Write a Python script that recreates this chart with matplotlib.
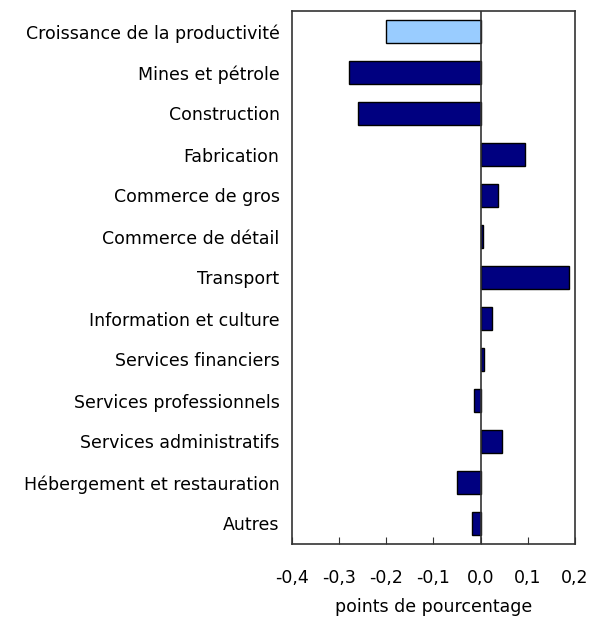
import matplotlib
matplotlib.use("Agg")
import matplotlib.pyplot as plt

categories = ["Croissance de la productivité", "Mines et pétrole", "Construction",
              "Fabrication", "Commerce de gros", "Commerce de détail", "Transport",
              "Information et culture", "Services financiers", "Services professionnels",
              "Services administratifs", "Hébergement et restauration", "Autres"]
values = [-0.20, -0.28, -0.26, 0.095, 0.037, 0.005, 0.188, 0.025, 0.008, -0.014,
          0.046, -0.050, -0.018]
colors = ["#99CCFF"] + ["#000080"] * 12
xticks = [-0.4, -0.3, -0.2, -0.1, 0.0, 0.1, 0.2]
xticklabels = ["-0,4", "-0,3", "-0,2", "-0,1", "0,0", "0,1", "0,2"]
xlabel = "points de pourcentage"

plt.rcParams['font.family'] = ['DejaVu Sans']

fig = plt.figure(figsize=(5.91, 6.22), dpi=100)
ax = fig.add_axes([292/591, 1-544/622, (575-292)/591, (544-11)/622])

y = list(range(len(categories)))
ax.barh(y, values, height=0.58, color=colors, edgecolor="black", linewidth=1.0, zorder=3)
ax.axvline(0, color="#333333", linewidth=1.2, zorder=4)

ax.set_xlim(-0.4, 0.2)
ax.set_ylim(len(categories) - 0.5, -0.5)
ax.set_yticks(y)
ax.set_yticklabels(categories, fontsize=12.5)
ax.tick_params(axis="y", length=0, pad=9)
ax.set_xticks(xticks)
ax.set_xticklabels(xticklabels, fontsize=12.5)
ax.tick_params(axis="x", direction="in", length=5, pad=18, color="#333333")
ax.set_xlabel(xlabel, fontsize=12.5, labelpad=8)
for s in ax.spines.values():
    s.set_color("#333333")
    s.set_linewidth(1.2)

fig.savefig("out.png", dpi=100)
